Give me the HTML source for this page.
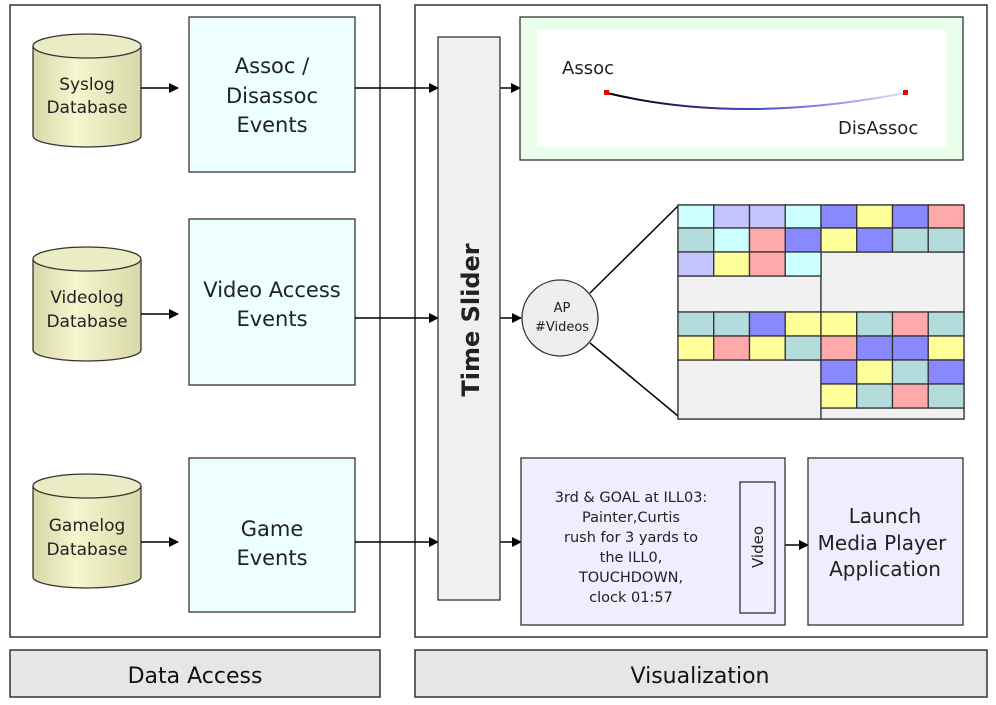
<!DOCTYPE html>
<html><head><meta charset="utf-8"><style>
html,body{margin:0;padding:0;background:#fff;}
svg{display:block;}
text{font-family:"DejaVu Sans","Liberation Sans",sans-serif;fill:#222;}
</style></head><body>
<svg width="996" height="705" viewBox="0 0 996 705" xmlns="http://www.w3.org/2000/svg">
<defs>
<marker id="a" markerWidth="10" markerHeight="10" refX="9" refY="5" orient="auto" markerUnits="userSpaceOnUse"><path d="M0,0 L10,5 L0,10 z" fill="#000"/></marker>
<linearGradient id="cg" x1="0" x2="1"><stop offset="0" stop-color="#d8d8a8"/><stop offset="0.4" stop-color="#f6f6d0"/><stop offset="1" stop-color="#d8d8a8"/></linearGradient>
<linearGradient id="lg" x1="0" x2="1"><stop offset="0" stop-color="#000"/><stop offset="0.5" stop-color="#4444cc"/><stop offset="1" stop-color="#ddddff"/></linearGradient>
</defs>
<rect x="10" y="5" width="370" height="632" fill="#fff" stroke="#333" stroke-width="1.5"/>
<rect x="415" y="5" width="572" height="632" fill="#fff" stroke="#333" stroke-width="1.5"/>
<rect x="10" y="650" width="370" height="47" fill="#e6e6e6" stroke="#333" stroke-width="1.5"/>
<rect x="415" y="650" width="572" height="47" fill="#e6e6e6" stroke="#333" stroke-width="1.5"/>
<text x="195" y="683" font-size="22" text-anchor="middle" style="fill:#111">Data Access</text>
<text x="700" y="683" font-size="22" text-anchor="middle" style="fill:#111">Visualization</text>

<g stroke="#333" stroke-width="1.3">
<path d="M33,46 L33,136 A54,11 0 0 0 141,136 L141,46" fill="url(#cg)"/><ellipse cx="87" cy="46" rx="54" ry="12" fill="#ececc4"/>
<path d="M33,259 L33,350 A54,11 0 0 0 141,350 L141,259" fill="url(#cg)"/><ellipse cx="87" cy="259" rx="54" ry="12" fill="#ececc4"/>
<path d="M33,486 L33,577 A54,11 0 0 0 141,577 L141,486" fill="url(#cg)"/><ellipse cx="87" cy="486" rx="54" ry="12" fill="#ececc4"/>
</g>
<g font-size="17" text-anchor="middle">
<text x="87" y="90">Syslog</text><text x="87" y="113">Database</text>
<text x="87" y="303">Videolog</text><text x="87" y="327">Database</text>
<text x="87" y="531">Gamelog</text><text x="87" y="555">Database</text>
</g>
<g fill="#eeffff" stroke="#333" stroke-width="1.3">
<rect x="189" y="17" width="166" height="155"/>
<rect x="189" y="219" width="166" height="166"/>
<rect x="189" y="458" width="166" height="154"/>
</g>
<g font-size="21" text-anchor="middle">
<text x="272" y="73">Assoc /</text><text x="272" y="103">Disassoc</text><text x="272" y="132">Events</text>
<text x="272" y="297">Video Access</text><text x="272" y="326">Events</text>
<text x="272" y="536">Game</text><text x="272" y="565">Events</text>
</g>
<g stroke="#000" stroke-width="1.5" marker-end="url(#a)">
<line x1="141" y1="88" x2="178" y2="88"/><line x1="141" y1="314" x2="178" y2="314"/><line x1="141" y1="542" x2="178" y2="542"/>
<line x1="355" y1="88" x2="438" y2="88"/><line x1="355" y1="318" x2="438" y2="318"/><line x1="355" y1="542" x2="438" y2="542"/>
<line x1="500" y1="88" x2="520" y2="88"/><line x1="500" y1="318" x2="521" y2="318"/><line x1="500" y1="542" x2="521" y2="542"/>
<line x1="775" y1="545" x2="808" y2="545"/>
</g>
<rect x="438" y="37" width="62" height="563" fill="#f0f0f0" stroke="#333" stroke-width="1.3"/>
<text transform="translate(479,320) rotate(-90)" font-size="24" font-weight="bold" text-anchor="middle">Time Slider</text>
<rect x="520" y="17" width="443" height="143" fill="#eaffea" stroke="#333" stroke-width="1.3"/>
<rect x="537" y="30" width="409" height="117" fill="#fff"/>
<text x="562" y="74" font-size="18">Assoc</text>
<text x="838" y="134" font-size="18">DisAssoc</text>
<path d="M607,93 Q740,125 905,93" fill="none" stroke="url(#lg)" stroke-width="2"/>
<rect x="604" y="90" width="5" height="5" fill="#e00"/><rect x="903" y="90" width="5" height="5" fill="#e00"/>
<line x1="590" y1="293" x2="678" y2="206" stroke="#000" stroke-width="1.5"/>
<line x1="590" y1="343" x2="678" y2="416" stroke="#000" stroke-width="1.5"/>
<ellipse cx="560" cy="318" rx="38" ry="38" fill="#eeeeee" stroke="#333" stroke-width="1.3"/>
<text x="562" y="312" font-size="13" text-anchor="middle">AP</text>
<text x="562" y="331" font-size="13" text-anchor="middle">#Videos</text>
<g stroke="#333" stroke-width="1.3">
<rect x="678" y="205" width="286" height="214" fill="#f0f0f0"/>
<rect x="678" y="276" width="143" height="36" fill="#f0f0f0"/>
<rect x="821" y="252" width="143" height="60" fill="#f0f0f0"/>
<rect x="678" y="360" width="143" height="59" fill="#f0f0f0"/>
<rect x="821" y="408" width="143" height="11" fill="#f0f0f0"/>
<rect x="678" y="205" width="35.75" height="23" fill="#ccffff"/><rect x="713.75" y="205" width="35.75" height="23" fill="#c4c4ff"/><rect x="749.5" y="205" width="35.75" height="23" fill="#c4c4ff"/><rect x="785.25" y="205" width="35.75" height="23" fill="#ccffff"/><rect x="821" y="205" width="35.75" height="23" fill="#8888ff"/><rect x="856.75" y="205" width="35.75" height="23" fill="#ffff99"/><rect x="892.5" y="205" width="35.75" height="23" fill="#8888ff"/><rect x="928.25" y="205" width="35.75" height="23" fill="#ffaaaa"/>
<rect x="678" y="228" width="35.75" height="24" fill="#b4dcdc"/><rect x="713.75" y="228" width="35.75" height="24" fill="#ccffff"/><rect x="749.5" y="228" width="35.75" height="24" fill="#ffaaaa"/><rect x="785.25" y="228" width="35.75" height="24" fill="#8888ff"/><rect x="821" y="228" width="35.75" height="24" fill="#ffff99"/><rect x="856.75" y="228" width="35.75" height="24" fill="#8888ff"/><rect x="892.5" y="228" width="35.75" height="24" fill="#b4dcdc"/><rect x="928.25" y="228" width="35.75" height="24" fill="#b4dcdc"/>
<rect x="678" y="252" width="35.75" height="24" fill="#c4c4ff"/><rect x="713.75" y="252" width="35.75" height="24" fill="#ffff99"/><rect x="749.5" y="252" width="35.75" height="24" fill="#ffaaaa"/><rect x="785.25" y="252" width="35.75" height="24" fill="#ccffff"/>
<rect x="678" y="312" width="35.75" height="24" fill="#b4dcdc"/><rect x="713.75" y="312" width="35.75" height="24" fill="#b4dcdc"/><rect x="749.5" y="312" width="35.75" height="24" fill="#8888ff"/><rect x="785.25" y="312" width="35.75" height="24" fill="#ffff99"/><rect x="821" y="312" width="35.75" height="24" fill="#ffff99"/><rect x="856.75" y="312" width="35.75" height="24" fill="#b4dcdc"/><rect x="892.5" y="312" width="35.75" height="24" fill="#ffaaaa"/><rect x="928.25" y="312" width="35.75" height="24" fill="#b4dcdc"/>
<rect x="678" y="336" width="35.75" height="24" fill="#ffff99"/><rect x="713.75" y="336" width="35.75" height="24" fill="#ffaaaa"/><rect x="749.5" y="336" width="35.75" height="24" fill="#ffff99"/><rect x="785.25" y="336" width="35.75" height="24" fill="#b4dcdc"/><rect x="821" y="336" width="35.75" height="24" fill="#ffaaaa"/><rect x="856.75" y="336" width="35.75" height="24" fill="#8888ff"/><rect x="892.5" y="336" width="35.75" height="24" fill="#8888ff"/><rect x="928.25" y="336" width="35.75" height="24" fill="#ffff99"/>
<rect x="821" y="360" width="35.75" height="24" fill="#8888ff"/><rect x="856.75" y="360" width="35.75" height="24" fill="#ffff99"/><rect x="892.5" y="360" width="35.75" height="24" fill="#b4dcdc"/><rect x="928.25" y="360" width="35.75" height="24" fill="#8888ff"/>
<rect x="821" y="384" width="35.75" height="24" fill="#ffff99"/><rect x="856.75" y="384" width="35.75" height="24" fill="#b4dcdc"/><rect x="892.5" y="384" width="35.75" height="24" fill="#ffaaaa"/><rect x="928.25" y="384" width="35.75" height="24" fill="#b4dcdc"/>
</g>
<rect x="521" y="458" width="264" height="167" fill="#eeeeff" stroke="#333" stroke-width="1.3"/>
<rect x="740" y="482" width="35" height="131" fill="#eeeeff" stroke="#333" stroke-width="1.3"/>
<text transform="translate(763,547) rotate(-90)" font-size="15" text-anchor="middle">Video</text>
<g font-size="14.5" text-anchor="middle">
<text x="631" y="502">3rd &amp; GOAL at ILL03:</text>
<text x="631" y="522">Painter,Curtis</text>
<text x="631" y="542">rush for 3 yards to</text>
<text x="631" y="562">the ILL0,</text>
<text x="631" y="582">TOUCHDOWN,</text>
<text x="631" y="602">clock 01:57</text>
</g>
<rect x="808" y="458" width="155" height="167" fill="#eeeeff" stroke="#333" stroke-width="1.3"/>
<g font-size="20" text-anchor="middle">
<text x="885" y="523">Launch</text><text x="882" y="550">Media Player</text><text x="885" y="576">Application</text>
</g>
</svg>
</body></html>
